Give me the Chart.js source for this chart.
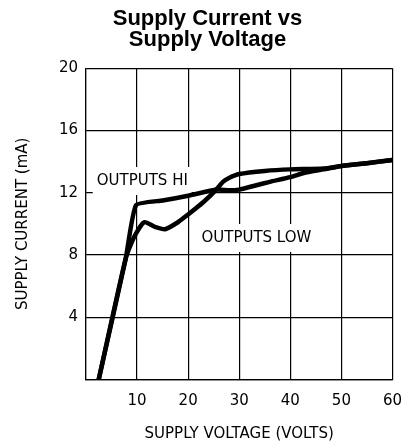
<!DOCTYPE html>
<html>
<head>
<meta charset="utf-8">
<script src="https://cdn.jsdelivr.net/npm/chart.js@4.4.1/dist/chart.umd.min.js"></script>
<style>
  html, body { margin: 0; padding: 0; background: #fff; }
  #wrap { width: 415px; height: 444px; position: relative; }
</style>
</head>
<body>
<div id="wrap"><canvas id="c" width="415" height="444"></canvas></div>
<script>
// ---- data ----
const titleLines = ["Supply Current vs", "Supply Voltage"];
const xAxisTitle = "SUPPLY VOLTAGE (VOLTS)";
const yAxisTitle = "SUPPLY CURRENT (mA)";
const xTicks = [10, 20, 30, 40, 50, 60];
const yTicks = [4, 8, 12, 16, 20];

const hiVoltage = [2.5, 7.8, 9.8, 15, 20, 25.5, 28, 30, 33, 36, 40, 43, 46.5, 50, 55, 60];
const hiCurrent = [0, 7.8, 11.2, 11.5, 11.8, 12.2, 12.15, 12.2, 12.45, 12.7, 13.0, 13.3, 13.5, 13.72, 13.9, 14.1];

const lowVoltage = [2.5, 7.8, 9.5, 11.4, 13.5, 15.5, 18, 20, 23, 25.5, 26.8, 28, 30, 35, 40, 46.5, 50, 55, 60];
const lowCurrent = [0, 7.8, 9.2, 10.1, 9.8, 9.65, 10.1, 10.6, 11.4, 12.2, 12.7, 12.95, 13.2, 13.4, 13.5, 13.55, 13.72, 13.9, 14.1];

const curveLabels = [
  { text: "OUTPUTS HI", x: 2.1, y: 12.75 },
  { text: "OUTPUTS LOW", x: 22.6, y: 9.09 }
];

const FONT = "'DejaVu Sans', 'Liberation Sans', sans-serif";

function toPoints(xs, ys) { return xs.map((x, i) => ({ x: x, y: ys[i] })); }

const labelPlugin = {
  id: 'curveLabels',
  beforeDatasetsDraw(chart) {
    const ctx = chart.ctx;
    const xs = chart.scales.x, ys = chart.scales.y;
    ctx.save();
    ctx.font = "15px " + FONT;
    ctx.textBaseline = 'middle';
    ctx.textAlign = 'left';
    curveLabels.forEach(l => {
      const px = xs.getPixelForValue(l.x);
      const py = ys.getPixelForValue(l.y);
      const w = ctx.measureText(l.text).width;
      ctx.fillStyle = '#fff';
      ctx.fillRect(px - 4, py - 14, w + 8, 28);
      ctx.fillStyle = '#000';
      ctx.fillText(l.text, px, py);
    });
    ctx.restore();
  }
};

new Chart(document.getElementById('c'), {
  type: 'scatter',
  data: {
    datasets: [
      { label: 'OUTPUTS HI', data: toPoints(hiVoltage, hiCurrent), showLine: true,
        borderColor: '#000', backgroundColor: '#000', borderWidth: 4.5, pointRadius: 0,
        tension: 0.15, borderJoinStyle: 'round', borderCapStyle: 'round' },
      { label: 'OUTPUTS LOW', data: toPoints(lowVoltage, lowCurrent), showLine: true,
        borderColor: '#000', backgroundColor: '#000', borderWidth: 4.5, pointRadius: 0,
        tension: 0.2, borderJoinStyle: 'round', borderCapStyle: 'round' }
    ]
  },
  options: {
    responsive: false,
    animation: false,
    events: [],
    layout: { padding: 0 },
    plugins: {
      legend: { display: false },
      tooltip: { enabled: false },
      title: {
        display: true,
        text: titleLines,
        color: '#000',
        font: { family: "'Liberation Sans', Arial, sans-serif", size: 22, weight: 'bold', lineHeight: '21px' },
        padding: { top: 8.5, bottom: 17.8 }
      }
    },
    scales: {
      x: {
        type: 'linear', min: 0, max: 60,
        afterFit(s) { s.height = 64.7; },
        afterBuildTicks(s) { s.ticks = [0].concat(xTicks).map(v => ({ value: v })); },
        ticks: {
          color: '#000', padding: 13, font: { family: FONT, size: 15 },
          callback: v => (xTicks.includes(v) ? String(v) : '')
        },
        grid: { color: '#000', lineWidth: 1.2, drawTicks: false },
        border: { color: '#000', width: 1.2 },
        title: { display: true, text: xAxisTitle, color: '#000', font: { family: FONT, size: 15 }, padding: 1 }
      },
      y: {
        type: 'linear', min: 0, max: 20,
        afterFit(s) { s.width = 86; },
        afterBuildTicks(s) { s.ticks = [0].concat(yTicks).map(v => ({ value: v })); },
        ticks: {
          color: '#000', padding: 8, font: { family: FONT, size: 15 },
          callback: v => (yTicks.includes(v) ? String(v) : '')
        },
        grid: { color: '#000', lineWidth: 1.2, drawTicks: false },
        border: { color: '#000', width: 1.2 },
        title: { display: true, text: yAxisTitle, color: '#000', font: { family: FONT, size: 15 }, padding: 14 }
      },
      spacer: {
        type: 'linear', position: 'right', min: 0, max: 20,
        afterFit(s) { s.width = 17.3; },
        ticks: { display: false },
        grid: { display: false, drawTicks: false },
        border: { display: false }
      }
    }
  },
  plugins: [labelPlugin]
});
</script>
</body>
</html>
